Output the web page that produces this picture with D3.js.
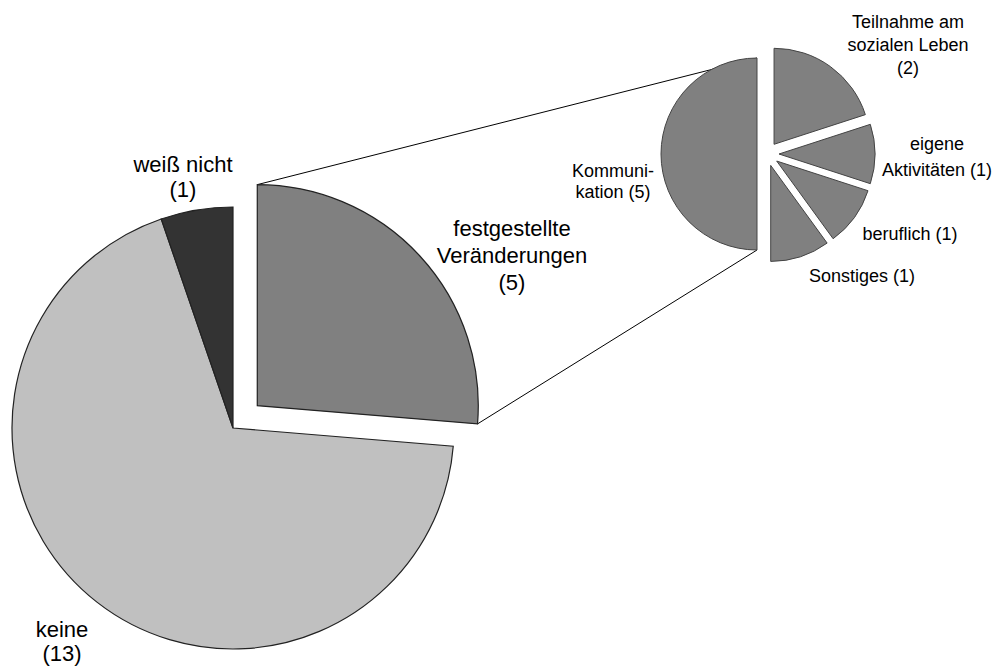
<!DOCTYPE html>
<html>
<head>
<meta charset="utf-8">
<script src="https://cdn.jsdelivr.net/npm/d3@7"></script>
<style>
  html, body { margin: 0; padding: 0; background: #fff; }
  svg { display: block; }
  text { font-family: "Liberation Sans", Arial, sans-serif; fill: #000; }
</style>
</head>
<body>
<svg id="chart" width="1005" height="670"></svg>
<script>
// ---- data ----
const mainCategories = ["festgestellte Veränderungen", "keine", "weiß nicht"];
const mainValues = [5, 13, 1];
const mainLabelLines = [["festgestellte", "Veränderungen", "(5)"], ["keine", "(13)"], ["weiß nicht", "(1)"]];

const subCategories = ["Teilnahme am sozialen Leben", "eigene Aktivitäten", "beruflich", "Sonstiges", "Kommunikation"];
const subValues = [2, 1, 1, 1, 5];
const subLabelLines = [["Teilnahme am", "sozialen Leben", "(2)"], ["eigene", "Aktivitäten (1)"], ["beruflich (1)"], ["Sonstiges (1)"], ["Kommuni-", "kation (5)"]];

// ---- styles / layout ----
const mainColors = ["#808080", "#c0c0c0", "#333333"];
const subColor = "#808080";
const mainCenter = [233, 428], mainR = 221, mainExplode = [33, 0, 0];
const subCenter = [767, 154], subR = 96, subExplode = [12, 12, 12, 12, 10];

const svg = d3.select("#chart");

const pie = d3.pie().sort(null).value(d => d).startAngle(0).endAngle(2 * Math.PI);
const mainArcs = pie(mainValues);
const subArcs = pie(subValues);

function offset(a, d) {
  const m = (a.startAngle + a.endAngle) / 2;
  return [d * Math.sin(m), -d * Math.cos(m)];
}
function pt(c, off, r, ang) {
  return [c[0] + off[0] + r * Math.sin(ang), c[1] + off[1] - r * Math.cos(ang)];
}

// connector lines (drawn first, pies on top)
const exp = mainArcs[0];
const expOff = offset(exp, mainExplode[0]);
const kom = subArcs[4];
const komOff = offset(kom, subExplode[4]);
const p1 = pt(mainCenter, expOff, mainR, exp.startAngle);
const p2 = pt(mainCenter, expOff, mainR, exp.endAngle);
const q1 = pt(subCenter, komOff, subR, kom.endAngle);
const q2 = pt(subCenter, komOff, subR, kom.startAngle);
svg.append("line").attr("x1", p1[0]).attr("y1", p1[1]).attr("x2", q1[0]).attr("y2", q1[1])
  .attr("stroke", "#000").attr("stroke-width", 1);
svg.append("line").attr("x1", p2[0]).attr("y1", p2[1]).attr("x2", q2[0]).attr("y2", q2[1])
  .attr("stroke", "#000").attr("stroke-width", 1);

// main pie
const mainArc = d3.arc().innerRadius(0).outerRadius(mainR);
svg.append("g").selectAll("path").data(mainArcs).join("path")
  .attr("transform", (d, i) => {
    const o = offset(d, mainExplode[i]);
    return `translate(${mainCenter[0] + o[0]},${mainCenter[1] + o[1]})`;
  })
  .attr("d", mainArc)
  .attr("fill", (d, i) => mainColors[i])
  .attr("stroke", "#222").attr("stroke-width", 1.2).attr("stroke-linejoin", "miter");

// sub pie
const subArc = d3.arc().innerRadius(0).outerRadius(subR);
svg.append("g").selectAll("path").data(subArcs).join("path")
  .attr("transform", (d, i) => {
    const o = offset(d, subExplode[i]);
    return `translate(${subCenter[0] + o[0]},${subCenter[1] + o[1]})`;
  })
  .attr("d", subArc)
  .attr("fill", subColor)
  .attr("stroke", "#444").attr("stroke-width", 1);

// labels
const mainLabelPos = [[512, 236, 27], [62, 637, 24], [183, 172, 25]];
const subLabelPos = [[908, 28, 23], [937, 150, 26], [910, 240, 0], [862, 282, 0], [613, 177, 21]];

function addLabel(lines, pos, size) {
  const t = svg.append("text").attr("text-anchor", "middle").style("font-size", size + "px");
  lines.forEach((l, j) => {
    t.append("tspan").attr("x", pos[0]).attr("y", pos[1] + j * pos[2]).text(l);
  });
}
mainLabelLines.forEach((lines, i) => addLabel(lines, mainLabelPos[i], 22));
subLabelLines.forEach((lines, i) => addLabel(lines, subLabelPos[i], 18));
</script>
</body>
</html>
